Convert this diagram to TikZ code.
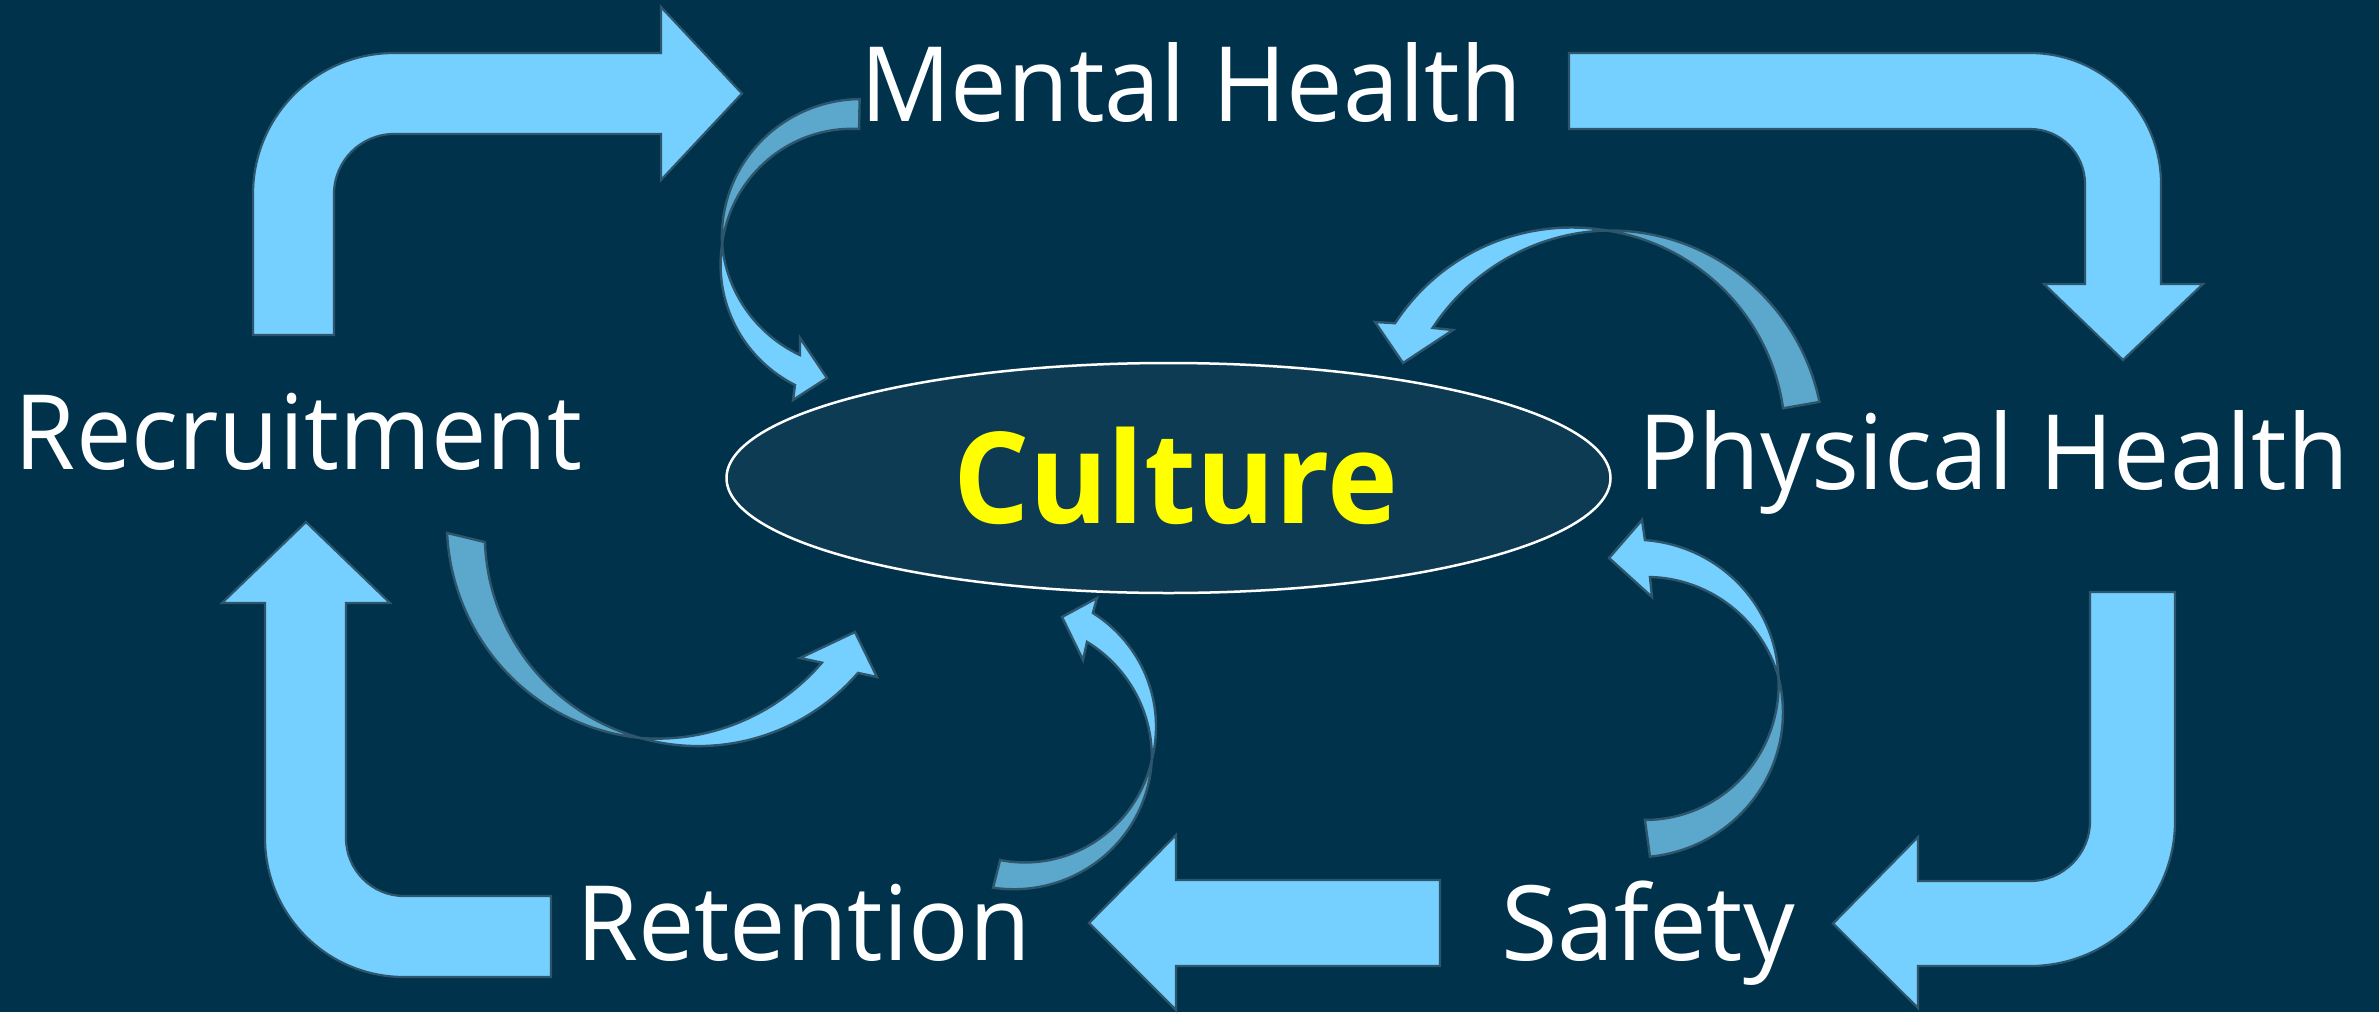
\documentclass[tikz,border=0pt]{standalone}
\usepackage{fontspec}
\usepackage{graphicx}
\setmainfont{Open Sans}
\usetikzlibrary{shapes.geometric}
\definecolor{bg}{RGB}{0,50,76}
\definecolor{ellfill}{RGB}{13,59,84}
\definecolor{arrowfill}{RGB}{117,208,255}
\definecolor{arrowback}{RGB}{92,167,204}
\definecolor{arrowline}{RGB}{45,86,108}
\definecolor{cultureyellow}{RGB}{255,255,0}
\newsavebox\fitbox
\newcommand\fitw[2]{\sbox\fitbox{#2}\pgfmathsetmacro\fitratio{#1/\the\wd\fitbox}\scalebox{\fitratio}[1]{\usebox\fitbox}}
% band edge around (\acx,\acy), crossing angle \actc, radius \acr:
% from angle #1 to #2; far end angle #3 where the offset from \acr is #4
\newcommand\spiralpath[4]{plot[domain=#1:#2, samples=50, smooth] ({\acx+(\acr+(#4)*0.5*((\x-\actc)/(#3-\actc)+sin(90*(\x-\actc)/(#3-\actc))))*cos(\x)}, {\acy+(\acr+(#4)*0.5*((\x-\actc)/(#3-\actc)+sin(90*(\x-\actc)/(#3-\actc))))*sin(\x)})}
\newcommand\spiralcont[4]{-- plot[domain=#1:#2, samples=50, smooth] ({\acx+(\acr+(#4)*0.5*((\x-\actc)/(#3-\actc)+sin(90*(\x-\actc)/(#3-\actc))))*cos(\x)}, {\acy+(\acr+(#4)*0.5*((\x-\actc)/(#3-\actc)+sin(90*(\x-\actc)/(#3-\actc))))*sin(\x)})}
\tikzset{
  lbl/.style={text=white, inner sep=0pt, anchor=base, font=\fontsize{104}{110}\selectfont},
  bigarrow/.style={fill=arrowfill, draw=arrowline, line width=2.2pt, line join=miter},
  frontband/.style={fill=arrowfill, draw=arrowline, line width=2.4pt, line join=miter},
  backband/.style={fill=arrowback, draw=arrowline, line width=2.4pt, line join=miter},
}
\begin{document}
\begin{tikzpicture}[x=1pt,y=-1pt]
\useasboundingbox (0,0) rectangle (2379,1012);
\fill[bg] (0,0) rectangle (2379,1012);

% central ellipse
\node[ellipse, draw=white, line width=2.5pt, fill=ellfill, minimum width=884pt, minimum height=230pt, inner sep=0pt] (culture) at (1168.5,478) {};
\node[text=cultureyellow, inner sep=0pt, anchor=base, font=\fontsize{127}{130}\selectfont\bfseries] (culturetext) at (1175.5,523) {\fitw{445}{Culture}};

% labels
\node[lbl] (mental) at (1191,121) {\fitw{662}{Mental Health}};
\node[lbl] (recruit) at (298.5,469) {\fitw{567}{Recruitment}};
\node[lbl] (physical) at (1993.5,489) {\fitw{711}{Physical Health}};
\node[lbl] (retention) at (803.5,960) {\fitw{455}{Retention}};
\node[lbl] (safety) at (1648,960) {\fitw{294}{Safety}};

% big arrows
% Recruitment -> Mental Health
\draw[bigarrow] (253,335) -- (253,194) .. controls (253,116.1) and (316.1,53) .. (394,53) -- (661,53) -- (661,7) -- (742,93.5) -- (661,180) -- (661,134) -- (394,134) .. controls (360.9,134) and (334,160.9) .. (334,194) -- (334,335) -- cycle;
% Mental Health -> Physical Health
\draw[bigarrow] (1569,53) -- (2030,53) .. controls (2102.4,53) and (2161,111.6) .. (2161,184) -- (2161,284) -- (2203,284) -- (2123,360) -- (2044,284) -- (2085,284) -- (2085,184) .. controls (2085,153.6) and (2060.4,129) .. (2030,129) -- (1569,129) -- cycle;
% Physical Health -> Safety
\draw[bigarrow] (2090,592) -- (2175,592) -- (2175,821) .. controls (2175,901.1) and (2110.1,966) .. (2030,966) -- (1918,966) -- (1918,1008) -- (1833,923.5) -- (1918,837) -- (1918,881) -- (2030,881) .. controls (2063.1,881) and (2090,854.1) .. (2090,821) -- cycle;
% Safety -> Retention
\draw[bigarrow] (1440,880) -- (1440,966) -- (1176,966) -- (1176,1010) -- (1089,923) -- (1176,835) -- (1176,880) -- cycle;
% Retention -> Recruitment
\draw[bigarrow] (551,896) -- (404,896) .. controls (372,896) and (346,870) .. (346,838) -- (346,603) -- (390,603) -- (306,522) -- (222,603) -- (265,603) -- (265,838) .. controls (265,914.8) and (327.2,977) .. (404,977) -- (551,977) -- cycle;

% curved arrows into Culture
% from Mental Health
\def\acx{857}\def\acy{249}\def\acr{135}\def\actc{182}
\draw[backband] \spiralpath{271}{182}{271}{15} \spiralcont{182}{271}{271}{-15} -- cycle;
\draw[frontband] \spiralpath{182}{114.5}{114.5}{14.5} -- (793,400) -- (827,378) -- (800,338) \spiralcont{118.3}{182}{118.3}{-14.6} -- cycle;
% from Physical Health
\def\acx{1592}\def\acy{442}\def\acr{212}\def\actc{274}
\draw[backband] \spiralpath{350}{274}{350}{19} \spiralcont{274}{350}{350}{-18} -- cycle;
\draw[frontband] \spiralpath{274}{211.1}{211.1}{18} -- (1375,322) -- (1403,363) -- (1453,330) \spiralcont{215.6}{274}{215.6}{-16} -- cycle;
% from Recruitment
\def\acx{679}\def\acy{528.5}\def\acr{213}\def\actc{100.5}
\draw[backband] \spiralpath{178.9}{100.5}{178.9}{19} \spiralcont{100.5}{176}{176}{-18.5} -- cycle;
\draw[frontband] \spiralpath{100.5}{38.9}{38.9}{17} -- (877,677) -- (855,632) -- (800,658) \spiralcont{43.2}{100.5}{43.2}{-17} -- cycle;
% from Retention
\def\acx{1019}\def\acy{742}\def\acr{134}\def\actc{7.7}
\draw[backband] \spiralpath{100.1}{7.7}{100.1}{14} \spiralcont{7.7}{99.1}{99.1}{-14.5} -- cycle;
\draw[frontband] \spiralpath{7.7}{-60.2}{-60.2}{14.7} -- (1097,598) -- (1062,617) -- (1083,660) \spiralcont{-55.8}{7.7}{-55.8}{-13} -- cycle;
% from Safety
\def\acx{1640}\def\acy{698}\def\acr{140}\def\actc{-8.6}
\draw[backband] \spiralpath{86.4}{-8.6}{86.4}{19} \spiralcont{-8.6}{87.7}{87.7}{-18} -- cycle;
\draw[frontband] \spiralpath{-8.6}{-88.2}{-88.2}{18} -- (1642,520) -- (1609,558) -- (1652,597) \spiralcont{-85.3}{-8.6}{-85.3}{-18.6} -- cycle;
\end{tikzpicture}
\end{document}
